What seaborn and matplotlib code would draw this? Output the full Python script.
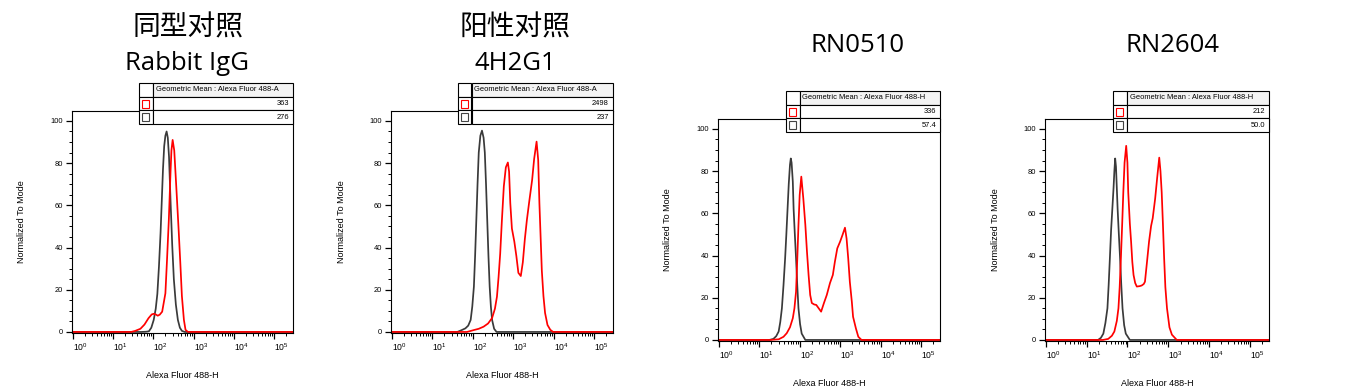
import numpy as np
import pandas as pd
import matplotlib
matplotlib.use("Agg")
import matplotlib.pyplot as plt
import seaborn as sns
from matplotlib.patches import Rectangle
from matplotlib.ticker import FixedLocator, FixedFormatter, MultipleLocator

# ---------------- data ----------------
titles_cn = ["同型对照", "阳性对照", "", ""]
titles_en = ["Rabbit IgG", "4H2G1", "RN0510", "RN2604"]
table_headers = ["Geometric Mean : Alexa Fluor 488-A", "Geometric Mean : Alexa Fluor 488-A",
                 "Geometric Mean : Alexa Fluor 488-H", "Geometric Mean : Alexa Fluor 488-H"]
geo_mean_red = ["363", "2498", "336", "212"]
geo_mean_black = ["276", "237", "57.4", "50.0"]

x_label = "Alexa Fluor 488-H"
y_label = "Normalized To Mode"
x_tick_exponents = [0, 1, 2, 3, 4, 5]
x_tick_labels = [r"$\mathdefault{10^{%d}}$" % e for e in x_tick_exponents]
y_ticks = [0, 20, 40, 60, 80, 100]
y_tick_labels = ["0", "20", "40", "60", "80", "100"]

# histogram curves: log10(fluorescence) and normalized-to-mode values
p1_black_log = [-0.1, 1.70, 1.82, 1.89, 1.95, 2.01, 2.06, 2.10, 2.14, 2.18, 2.21, 2.24, 2.27, 2.30, 2.33,
                2.36, 2.39, 2.43, 2.47, 2.51, 2.56, 2.61, 2.66, 2.71, 2.78, 5.6]
p1_black_val = [0, 0, 0.1, 0.3, 2, 5.7, 11, 18, 31, 47, 62, 77, 88, 93, 95,
                92, 83, 61, 41, 25, 13, 5.7, 2, 0.5, 0, 0]
p1_red_log = [-0.1, 1.45, 1.55, 1.68, 1.78, 1.88, 1.96, 2.01, 2.06, 2.11, 2.16, 2.22, 2.30, 2.34, 2.385,
              2.43, 2.45, 2.48, 2.52, 2.57, 2.63, 2.67, 2.71, 2.76, 2.80, 2.86, 5.6]
p1_red_val = [0, 0, 0.5, 1.5, 3.5, 6.5, 8.3, 8.6, 8.3, 7.7, 8.2, 9.6, 18.3, 34, 53,
              77, 86, 91, 86, 69, 48, 33, 17, 5.7, 1, 0, 0]

p2_black_log = [-0.1, 1.62, 1.72, 1.82, 1.89, 1.95, 1.99, 2.03, 2.06, 2.09, 2.12, 2.15, 2.19, 2.23, 2.27,
                2.30, 2.33, 2.36, 2.39, 2.42, 2.45, 2.48, 2.53, 2.59, 5.6]
p2_black_val = [0, 0, 0.8, 1.7, 3, 5.7, 12, 21.5, 36, 53, 70, 85, 93, 95.4, 92,
                85, 70, 53, 36, 21.5, 12, 5.7, 1.5, 0, 0]
p2_red_log = [-0.1, 1.86, 2.03, 2.15, 2.27, 2.38, 2.48, 2.55, 2.60, 2.64, 2.68, 2.72, 2.77, 2.82, 2.87,
              2.90, 2.93, 2.97, 3.03, 3.08, 3.13, 3.19, 3.24, 3.29, 3.34, 3.40, 3.47, 3.52, 3.58, 3.62,
              3.65, 3.71, 3.75, 3.79, 3.85, 3.92, 3.99, 5.6]
p2_red_val = [0, 0, 0.9, 1.5, 2.5, 4, 6.6, 11, 16.7, 26, 37, 52, 69, 78, 80.3,
              76, 61, 49, 42.8, 36, 28, 26.5, 33, 44, 53, 62, 72, 82, 90.2, 81.5,
              61, 29, 17, 9, 3.3, 1, 0, 0]

p3_black_log = [-0.1, 1.25, 1.35, 1.42, 1.48, 1.52, 1.56, 1.60, 1.64, 1.67, 1.70, 1.73, 1.76, 1.78, 1.80,
                1.83, 1.85, 1.88, 1.91, 1.94, 1.97, 2.01, 2.05, 2.14, 5.6]
p3_black_val = [0, 0, 0.5, 1.8, 4, 8.5, 15, 26, 38.7, 50, 62, 74, 83, 86, 84,
                75, 62, 50, 38.7, 26, 15, 7.5, 3, 0, 0]
p3_red_log = [-0.1, 1.27, 1.48, 1.60, 1.68, 1.76, 1.83, 1.87, 1.91, 1.94, 1.97, 2.00, 2.04, 2.09, 2.14,
              2.18, 2.22, 2.26, 2.30, 2.36, 2.41, 2.47, 2.53, 2.60, 2.67, 2.75, 2.82, 2.87, 2.93, 3.00,
              3.06, 3.12, 3.16, 3.20, 3.24, 3.29, 3.32, 3.39, 3.45, 3.53, 5.6]
p3_red_val = [0, 0, 0.3, 1.5, 3.2, 6, 10.3, 15, 22.9, 38, 54.5, 68.7, 77.4, 67, 54.5,
              41.9, 30.8, 21.3, 17.5, 16.8, 16.6, 15, 13.4, 17.5, 21.3, 27, 30.8, 37, 43.4, 46.6,
              49.8, 53.2, 48, 38.7, 27.6, 18, 11, 5.5, 1.5, 0, 0]

p4_black_log = [-0.1, 1.28, 1.35, 1.41, 1.46, 1.51, 1.54, 1.57, 1.60, 1.63, 1.66, 1.68, 1.70, 1.72, 1.74,
                1.76, 1.79, 1.82, 1.85, 1.88, 1.92, 1.96, 2.06, 5.6]
p4_black_val = [0, 0, 1, 3, 8, 15, 26, 38.7, 52, 62, 72, 80, 86, 82, 72,
                62, 50, 38.7, 26, 15, 7, 3, 0, 0]
p4_red_log = [-0.1, 1.40, 1.53, 1.62, 1.68, 1.74, 1.78, 1.81, 1.84, 1.87, 1.90, 1.93, 1.97, 2.00, 2.02,
              2.06, 2.09, 2.12, 2.15, 2.19, 2.23, 2.30, 2.35, 2.40, 2.43, 2.48, 2.53, 2.58, 2.62, 2.68,
              2.73, 2.78, 2.81, 2.84, 2.87, 2.90, 2.93, 2.97, 3.03, 3.09, 3.21, 5.6]
p4_red_val = [0, 0, 0.5, 2, 4, 9, 15, 25, 38.7, 54, 70.3, 84, 92, 84, 70,
              55, 46.6, 37, 30.8, 27, 25.3, 25.5, 25.8, 26.5, 27.6, 37, 46.6, 54, 57.7, 67,
              77, 86.4, 80, 70, 55, 38.7, 25, 15, 6, 2.5, 0, 0]

black_curves = [(p1_black_log, p1_black_val), (p2_black_log, p2_black_val),
                (p3_black_log, p3_black_val), (p4_black_log, p4_black_val)]
red_curves = [(p1_red_log, p1_red_val), (p2_red_log, p2_red_val),
              (p3_red_log, p3_red_val), (p4_red_log, p4_red_val)]

# ---------------- layout (pixels) ----------------
W, H = 1357, 386
sns.set_theme(style="white")
plt.rcParams["font.family"] = ["Liberation Sans", "DejaVu Sans"]
plt.rcParams["mathtext.default"] = "regular"

fig = plt.figure(figsize=(W / 100, H / 100), dpi=100)
fig.patch.set_facecolor("white")


def fx(x):
    return x / W


def fy(y):
    return 1 - y / H


axes_px = [(72, 111, 293, 333), (391, 111, 613, 333), (718, 119, 940, 341), (1045, 119, 1269, 341)]
table_px = [(139, 83, 293), (458, 83, 613), (786, 91, 940), (1113, 91, 1269)]
title_cn_px = [(188, 28), (515, 28), None, None]
title_en_px = [(187, 63), (515, 63), (858, 46), (1173, 46)]

minor_x = [m * 10.0 ** k for k in range(0, 6) for m in range(2, 10)]
ROW = 13.7
CB = 13.5

for i in range(4):
    l, t, r, b = axes_px[i]
    ax = fig.add_axes([fx(l), fy(b), (r - l) / W, (b - t) / H])
    ax.set_facecolor("white")
    ax.set_xscale("log")
    bl, bv = black_curves[i]
    rl, rv = red_curves[i]
    df_b = pd.DataFrame({"x": 10.0 ** np.array(bl), "y": bv})
    df_r = pd.DataFrame({"x": 10.0 ** np.array(rl), "y": rv})
    sns.lineplot(data=df_b, x="x", y="y", ax=ax, color="#3a3a3a", lw=1.25, sort=False)
    sns.lineplot(data=df_r, x="x", y="y", ax=ax, color="#ff0000", lw=1.25, sort=False)
    ax.set_xlim(10 ** -0.02, 10 ** 5.47)
    ax.set_ylim(-0.5, 104.7)

    ax.xaxis.set_major_locator(FixedLocator([10.0 ** e for e in x_tick_exponents]))
    ax.xaxis.set_major_formatter(FixedFormatter(x_tick_labels))
    ax.xaxis.set_minor_locator(FixedLocator(minor_x))
    ax.yaxis.set_major_locator(FixedLocator(y_ticks))
    ax.yaxis.set_major_formatter(FixedFormatter(y_tick_labels))
    ax.yaxis.set_minor_locator(MultipleLocator(5))
    ax.tick_params(which="major", direction="out", length=4.5, width=0.9, color="black",
                   labelsize=5.4, pad=2, labelcolor="black", bottom=True, left=True)
    ax.tick_params(axis="x", which="major", labelsize=6.2, pad=1.5)
    ax.tick_params(which="minor", direction="out", length=2.5, width=0.7, color="black",
                   bottom=True, left=True)
    for lab in ax.get_xticklabels():
        lab.set_ha("left")
    for sp in ax.spines.values():
        sp.set_visible(True)
        sp.set_color("black")
        sp.set_linewidth(0.8)
    ax.grid(False)

    ax.set_xlabel(x_label, fontsize=6.5, color="black")
    ax.xaxis.set_label_coords(0.5, -42 / (b - t))
    ax.xaxis.label.set_va("center")
    ax.set_ylabel(y_label, fontsize=6.5, color="black")
    ax.yaxis.set_label_coords(-50 / (r - l), 0.5)
    ax.yaxis.label.set_va("center")

    # statistics table
    tl, tt, tr = table_px[i]
    rows = [(table_headers[i], None), (geo_mean_red[i], "#ff0000"), (geo_mean_black[i], "#444444")]
    for j, (txt, boxcol) in enumerate(rows):
        y0 = tt + j * ROW
        fig.add_artist(Rectangle((fx(tl), fy(y0 + ROW)), CB / W, ROW / H, transform=fig.transFigure,
                                 facecolor="white", edgecolor="black", lw=0.8, zorder=5))
        fig.add_artist(Rectangle((fx(tl + CB), fy(y0 + ROW)), (tr - tl - CB) / W, ROW / H,
                                 transform=fig.transFigure,
                                 facecolor="#f3f3f3" if j == 0 else "white",
                                 edgecolor="black", lw=0.8, zorder=5))
        if j == 0:
            fig.text(fx(tl + CB + 3), fy(y0 + ROW / 2), txt, ha="left", va="center",
                     fontsize=5.4, color="black", zorder=6)
        else:
            fig.text(fx(tr - 4), fy(y0 + ROW / 2), txt, ha="right", va="center",
                     fontsize=5.4, color="black", zorder=6)
            fig.add_artist(Rectangle((fx(tl + CB / 2 - 3.5), fy(y0 + ROW / 2 + 4)), 7 / W, 8 / H,
                                     transform=fig.transFigure, facecolor="none",
                                     edgecolor=boxcol, lw=0.8, zorder=6))

    # titles
    if title_cn_px[i] is not None and titles_cn[i]:
        cx, cy = title_cn_px[i]
        fig.text(fx(cx), fy(cy), titles_cn[i], ha="center", va="center", fontsize=20,
                 family=["Noto Sans CJK SC", "DejaVu Sans"], fontweight="light", color="black")
    ex, ey = title_en_px[i]
    fig.text(fx(ex), fy(ey), titles_en[i], ha="center", va="center", fontsize=18.5,
             family=["Open Sans", "DejaVu Sans"], color="black")

fig.savefig("out.png", dpi=100, facecolor="white")
